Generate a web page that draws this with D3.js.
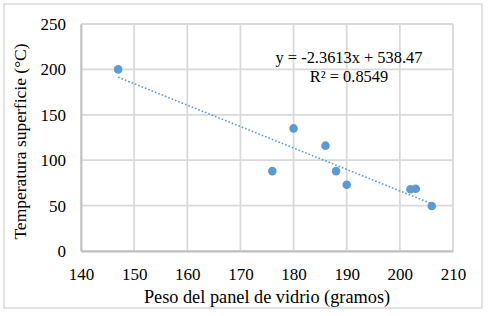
<!DOCTYPE html>
<html>
<head>
<meta charset="utf-8">
<script src="https://cdn.jsdelivr.net/npm/d3@7"></script>
<style>
  html, body { margin: 0; padding: 0; background: #fff; }
  text { font-family: "Liberation Serif", "Times New Roman", serif; fill: #000; }
</style>
</head>
<body>
<div id="chart"></div>
<script>
const weights = [147, 176, 180, 186, 188, 190, 202, 203, 206];
const temps = [200, 88, 135, 116, 88, 73, 68, 68.5, 49.5];
const xTicks = [140, 150, 160, 170, 180, 190, 200, 210];
const yTicks = [0, 50, 100, 150, 200, 250];
const slope = -2.3613, intercept = 538.47;
const eqLines = ["y = -2.3613x + 538.47", "R² = 0.8549"];

const width = 490, height = 316;
const margin = { top: 24, right: 37, bottom: 65, left: 81 };

const svg = d3.select("#chart").append("svg").attr("width", width).attr("height", height);

svg.append("rect").attr("x", 4).attr("y", 4).attr("width", 478).attr("height", 304)
    .attr("fill", "#fff").attr("stroke", "#d9d9d9").attr("stroke-width", 1.5);

const x = d3.scaleLinear().domain([140, 210]).range([margin.left, width - margin.right]);
const y = d3.scaleLinear().domain([0, 250]).range([height - margin.bottom, margin.top]);

// grid
svg.append("g").selectAll("line").data(xTicks).join("line")
    .attr("x1", d => x(d)).attr("x2", d => x(d)).attr("y1", y(0)).attr("y2", y(250))
    .attr("stroke", "#d9d9d9").attr("stroke-width", 1.8);
svg.append("g").selectAll("line").data(yTicks).join("line")
    .attr("x1", x(140)).attr("x2", x(210)).attr("y1", d => y(d)).attr("y2", d => y(d))
    .attr("stroke", "#d9d9d9").attr("stroke-width", 1.8);

// axes
const xAxis = svg.append("g").attr("transform", `translate(0,${y(0)})`)
    .call(d3.axisBottom(x).tickValues(xTicks).tickSize(0).tickPadding(17));
const yAxis = svg.append("g").attr("transform", `translate(${x(140)},0)`)
    .call(d3.axisLeft(y).tickValues(yTicks).tickSize(0).tickPadding(15));
[xAxis, yAxis].forEach(a => {
    a.select(".domain").attr("stroke", "#bfbfbf").attr("stroke-width", 1.8);
    a.selectAll("text").style("font-size", "17px").attr("fill", "#000");
});

// trendline
svg.append("line")
    .attr("x1", x(d3.min(weights))).attr("y1", y(slope * d3.min(weights) + intercept))
    .attr("x2", x(d3.max(weights))).attr("y2", y(slope * d3.max(weights) + intercept))
    .attr("stroke", "#5b9bd5").attr("stroke-width", 1.6).attr("stroke-dasharray", "1.6,2");

// points
svg.append("g").selectAll("circle").data(weights).join("circle")
    .attr("cx", d => x(d)).attr("cy", (d, i) => y(temps[i])).attr("r", 4.3)
    .attr("fill", "#5b9bd5");

// equation
svg.append("g").selectAll("text").data(eqLines).join("text")
    .attr("x", 349).attr("y", (d, i) => 63 + i * 18.5).attr("text-anchor", "middle")
    .style("font-size", "16.4px").text(d => d);

// axis titles
svg.append("text").attr("x", 267).attr("y", 303).attr("text-anchor", "middle")
    .style("font-size", "18.3px").text("Peso del panel de vidrio (gramos)");
svg.append("text").attr("transform", `translate(26,141.5) rotate(-90)`)
    .attr("text-anchor", "middle").style("font-size", "17.5px").text("Temperatura superficie (°C)");
</script>
</body>
</html>
